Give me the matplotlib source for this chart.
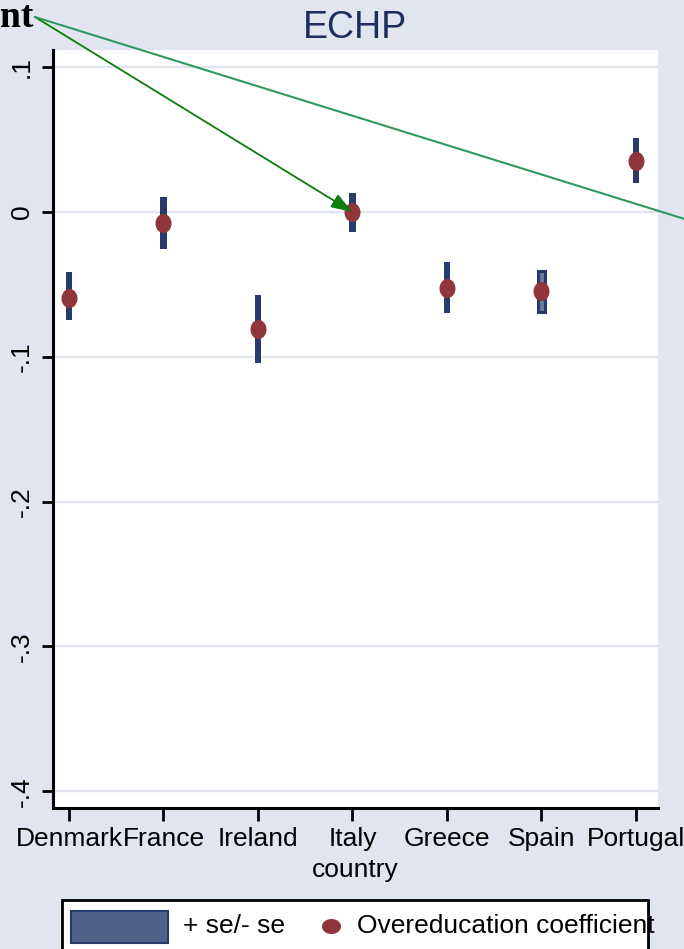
import matplotlib
matplotlib.use("Agg")
import matplotlib.pyplot as plt
from matplotlib.path import Path
from matplotlib.patches import Rectangle
from matplotlib.lines import Line2D
import numpy as np

# --- data -------------------------------------------------------------
countries = ["Denmark", "France", "Ireland", "Italy", "Greece", "Spain", "Portugal"]
coef = [-0.0592, -0.0074, -0.0808, 0.0000, -0.0525, -0.0546, 0.0350]
upper = [-0.0416, 0.0106, -0.0571, 0.0129, -0.0347, -0.0404, 0.0509]
lower = [-0.0746, -0.0256, -0.1041, -0.0138, -0.0700, -0.0689, 0.0198]
ytick_vals = [-0.4, -0.3, -0.2, -0.1, 0.0, 0.1]
ytick_labels = ["-.4", "-.3", "-.2", "-.1", "0", ".1"]
title = "ECHP"
xlabel = "country"
legend_labels = ["+ se/- se", "Overeducation coefficient"]
note = "nt"

# --- style ------------------------------------------------------------
W, H = 684, 949
bg = "#e0e5ef"
navy = "#273b6c"
navy_fill = "#4f6289"
maroon = "#8f353b"
title_col = "#1c2e5e"
green_dark = "#0b7d0b"
green_mid = "#2e9960"
sans = ["Liberation Sans", "DejaVu Sans"]
plt.rcParams["font.family"] = sans


def fp(x, y):
    """pixel position -> figure fraction"""
    return x / W, 1 - y / H


# elliptical markers (tall in the plot, wide in the key)
t = np.linspace(0, 2 * np.pi, 64)
tall_ellipse = Path(np.column_stack([0.84 * np.cos(t), np.sin(t)]), closed=True)
wide_ellipse = Path(np.column_stack([np.cos(t), 0.79 * np.sin(t)]), closed=True)

fig = plt.figure(figsize=(W / 100, H / 100), dpi=100)
fig.patch.set_facecolor(bg)
ax = fig.add_axes([53 / W, 1 - 808 / H, 605 / W, 758 / H])
ax.set_facecolor("white")

x = np.arange(len(countries))
heights = np.array(upper) - np.array(lower)
ax.bar(x, heights, bottom=lower, width=0.067, color=navy, zorder=3)
# Spain's band is drawn with an outline and lighter core
ax.bar(x[5], heights[5], bottom=lower[5], width=0.067, color="#6a7ba0",
       edgecolor=navy, linewidth=2.2, zorder=3.5)
ax.plot(x, coef, linestyle="none", marker=tall_ellipse, markersize=13.7,
        color=maroon, markeredgewidth=0, zorder=4)

ax.set_xlim(-0.169, 6.233)
ax.set_ylim(-0.4116, 0.1119)
ax.set_xticks(x)
ax.set_xticklabels(countries)
ax.set_yticks(ytick_vals)
ax.set_yticklabels(ytick_labels)

for s in ("top", "right"):
    ax.spines[s].set_visible(False)
for s in ("left", "bottom"):
    ax.spines[s].set_color("black")
    ax.spines[s].set_linewidth(2.2)

ax.yaxis.grid(True, color=bg, linewidth=1.7)
ax.set_axisbelow(True)
ax.tick_params(axis="x", direction="out", length=9, width=2, labelsize=19, pad=5)
ax.tick_params(axis="y", direction="out", length=8, width=2, labelsize=19, pad=6,
               labelrotation=90)
for lab in ax.get_yticklabels():
    lab.set_va("center")

ax.set_xlabel(xlabel, fontsize=19, labelpad=5)
ax.set_title(title, fontsize=27, color=title_col, pad=8.6)

# --- annotation text with pointers ------------------------------------
fig.text(*fp(33, 27), note, ha="right", va="baseline", fontsize=27,
         fontweight="bold", family=["Liberation Serif", "DejaVu Serif"])
ax.annotate("", xy=(x[3], coef[3]), xycoords="data",
            xytext=fp(35, 17), textcoords="figure fraction",
            arrowprops=dict(arrowstyle="-|>,head_length=1.3,head_width=0.45",
                            color=green_dark, lw=1.3, shrinkA=0, shrinkB=0,
                            mutation_scale=10),
            annotation_clip=False, zorder=6)
ax.annotate("", xy=fp(720, 230), xycoords="figure fraction",
            xytext=fp(35, 17), textcoords="figure fraction",
            arrowprops=dict(arrowstyle="-", color=green_mid, lw=1.5,
                            shrinkA=0, shrinkB=0),
            annotation_clip=False, zorder=6)

# --- key --------------------------------------------------------------
bx0, by0 = fp(62, 975)
box_w, box_h = 586 / W, 75 / H
fig.patches.append(Rectangle((bx0, by0), box_w, box_h, transform=fig.transFigure,
                             facecolor="white", edgecolor="none", zorder=1))
px0, py0 = fp(71, 943)
fig.patches.append(Rectangle((px0, py0), 97 / W, 32 / H, transform=fig.transFigure,
                             facecolor=navy_fill, edgecolor=navy, linewidth=1.5,
                             zorder=2))
fig.text(*fp(183, 926), legend_labels[0], ha="left", va="center", fontsize=19,
         zorder=2)
fig.lines.append(Line2D([fp(331, 926)[0]], [fp(331, 926)[1]],
                        transform=fig.transFigure, linestyle="none",
                        marker=wide_ellipse, markersize=13.7, color=maroon,
                        markeredgewidth=0, zorder=2))
fig.text(*fp(357, 926), legend_labels[1], ha="left", va="center", fontsize=19,
         zorder=2)
fig.patches.append(Rectangle((bx0, by0), box_w, box_h, transform=fig.transFigure,
                             facecolor="none", edgecolor="black", linewidth=2.0,
                             zorder=3))

fig.savefig("out.png", dpi=100, facecolor=bg)
